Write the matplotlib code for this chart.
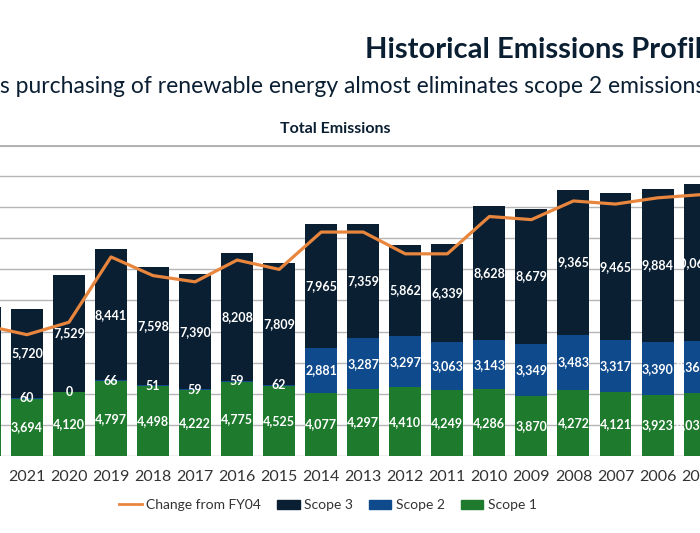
import matplotlib.pyplot as plt
from matplotlib.patches import Patch
from matplotlib.lines import Line2D

years = [2005, 2006, 2007, 2008, 2009, 2010, 2011, 2012, 2013,
         2014, 2015, 2016, 2017, 2018, 2019, 2020, 2021, 2022]
scope1 = [4030, 3923, 4121, 4272, 3870, 4286, 4249, 4410, 4297,
          4077, 4525, 4775, 4222, 4498, 4797, 4120, 3694, 3700]
scope2 = [3365, 3390, 3317, 3483, 3349, 3143, 3063, 3297, 3287,
          2881, 62, 59, 59, 51, 66, 0, 60, 60]
scope3 = [10065, 9884, 9465, 9365, 8679, 8628, 6339, 5862, 7359,
          7965, 7809, 8208, 7390, 7598, 8441, 7529, 5720, 5850]
# change from FY04, percent
change = [-6, -7, -9, -8, -14, -13, -25, -25, -18,
          -18, -30, -27, -34, -32, -26, -47, -51, -48]

c1 = '#1e7a2c'
c2 = '#0f4a8c'
c3 = '#0b1f33'
c_line = '#e8863e'
navy = '#0b1f33'

plt.rcParams['font.family'] = ['Lato', 'DejaVu Sans']

fig = plt.figure(figsize=(7, 5.33), dpi=100)
ax = fig.add_axes([0, 0.1445, 1, 0.5835])

w = 0.76
b1 = ax.bar(years, scope1, w, color=c1, zorder=2)
b2 = ax.bar(years, scope2, w, bottom=scope1, color=c2, zorder=2)
bottom3 = [a + b for a, b in zip(scope1, scope2)]
b3 = ax.bar(years, scope3, w, bottom=bottom3, color=c3, zorder=2)

# the 2022 bar is only a sliver at the edge, its labels are out of view
for cont, vals in [(b1, scope1), (b2, scope2), (b3, scope3)]:
    labs = [f'{v:,}' for v in vals[:-1]] + ['']
    ax.bar_label(cont, labels=labs, label_type='center',
                 color='white', fontsize=9, fontweight='bold')

ax.set_ylim(0, 20000)
ax.set_yticks(range(0, 20001, 2000))
ax.grid(axis='y', color='#b5b5b5', lw=1, zorder=0)
ax.axhline(20000, color='#b0b0b0', lw=2.2, zorder=0)
ax.set_axisbelow(True)
ax.set_xticks(years[:-1])
ax.set_xticklabels([str(y) for y in years[:-1]], fontsize=11.5, color='#333333')
ax.tick_params(axis='x', length=0, pad=10)
ax.tick_params(axis='y', length=0, labelleft=False)
for s in ax.spines.values():
    s.set_visible(False)

ax2 = ax.twinx()
ax2.plot(years, change, color=c_line, lw=2.3, zorder=3)
ax2.set_ylim(-90, 10)
ax2.set_yticks([])
for s in ax2.spines.values():
    s.set_visible(False)

# reversed year order, cropped at both ends
ax.set_xlim(2021.64, 2004.99)
ax2.set_xlim(2021.64, 2004.99)

fig.text(365 / 700, 1 - 50 / 533, 'Historical Emissions Profile', ha='left', va='center',
         fontsize=21, fontweight='bold', color=navy)
fig.text(0.5, 1 - 86 / 533,
         "’s purchasing of renewable energy almost eliminates scope 2 emissions",
         ha='center', va='center', fontsize=16.5, color=navy)
fig.text(335 / 700, 1 - 129 / 533, 'Total Emissions', ha='center', va='center',
         fontsize=11.5, fontweight='bold', color=navy)

handles = [Line2D([], [], color=c_line, lw=2),
           Patch(color=c3), Patch(color=c2), Patch(color=c1)]
labels = ['Change from FY04', 'Scope 3', 'Scope 2', 'Scope 1']
fig.legend(handles, labels, loc='center', bbox_to_anchor=(328 / 700, 1 - 505 / 533),
           ncol=4, frameon=False, fontsize=10, handlelength=1.6, handleheight=0.6,
           columnspacing=1.2, handletextpad=0.3, labelcolor='#333333')

plt.savefig('out.png')
plt.close()
